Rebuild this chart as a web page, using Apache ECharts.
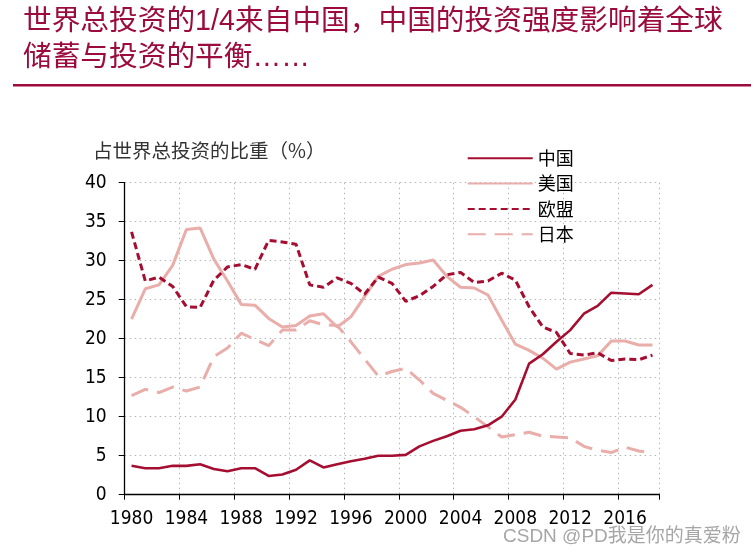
<!DOCTYPE html>
<html>
<head>
<meta charset="utf-8">
<script src="https://cdn.jsdelivr.net/npm/echarts@6/dist/echarts.min.js"></script>
<style>
html,body{margin:0;padding:0;background:#fff;}
#chart{width:755px;height:557px;}
</style>
</head>
<body>
<div id="chart"></div>
<script>
var years = [];
for (var y = 1980; y <= 2018; y++) years.push(String(y));

var seriesNames = ['中国', '美国', '欧盟', '日本'];

var china = [3.7, 3.4, 3.4, 3.7, 3.7, 3.9, 3.3, 3.0, 3.4, 3.4, 2.4, 2.6, 3.2, 4.4, 3.5, 3.9, 4.3, 4.6, 5.0, 5.0,
  5.1, 6.2, 6.9, 7.5, 8.2, 8.4, 8.9, 10.0, 12.2, 16.8, 18.0, 19.6, 21.1, 23.2, 24.2, 25.9, 25.8, 25.7, 26.9];
var usa = [22.5, 26.4, 26.9, 29.4, 34.0, 34.2, 30.2, 27.4, 24.4, 24.3, 22.6, 21.5, 21.7, 22.9, 23.2, 21.5, 22.8, 25.4, 28.0, 28.9,
  29.5, 29.7, 30.1, 28.0, 26.6, 26.5, 25.6, 22.4, 19.3, 18.5, 17.5, 16.1, 17.0, 17.4, 17.8, 19.7, 19.7, 19.2, 19.2];
var eu = [33.7, 27.4, 27.9, 26.7, 24.1, 24.0, 27.5, 29.2, 29.5, 28.9, 32.6, 32.4, 32.1, 26.9, 26.6, 27.8, 27.1, 25.7, 27.9, 27.1,
  24.8, 25.5, 26.7, 28.2, 28.5, 27.2, 27.4, 28.4, 27.5, 24.1, 21.5, 20.8, 18.1, 17.9, 18.2, 17.2, 17.4, 17.3, 17.9];
var japan = [12.7, 13.5, 13.1, 13.8, 13.3, 13.8, 17.7, 18.8, 20.7, 19.9, 19.1, 21.1, 21.1, 22.3, 21.8, 21.7, 19.6, 17.4, 15.2, 15.8,
  16.2, 14.7, 13.0, 12.1, 11.2, 10.0, 8.7, 7.4, 7.7, 8.0, 7.5, 7.4, 7.3, 6.2, 5.7, 5.4, 6.1, 5.6, 5.4];

var titleText = '世界总投资的1/4来自中国，中国的投资强度影响着全球\n储蓄与投资的平衡……';
var yAxisTitle = '占世界总投资的比重（%）';
var watermark = 'CSDN @PD我是你的真爱粉';

var DARK = '#A50E30';
var LIGHT = '#E9ADAA';
var numFont = '"DejaVu Sans Condensed", "DejaVu Sans", sans-serif';
var cjkFont = '"Noto Sans CJK SC", sans-serif';
var mixFont = '"Liberation Sans", "Noto Sans CJK SC", sans-serif';

var chart = echarts.init(document.getElementById('chart'), null, {renderer: 'canvas'});
chart.setOption({
  backgroundColor: '#fff',
  animation: false,
  title: [{
    text: titleText,
    left: 23, top: 4, padding: 0,
    textStyle: {fontFamily: mixFont, fontSize: 28.7, fontWeight: 'normal', color: '#9B0B3B', lineHeight: 36}
  }, {
    text: yAxisTitle,
    left: 93, top: 141, padding: 0,
    textStyle: {fontFamily: cjkFont, fontSize: 19.5, fontWeight: 'normal', color: '#333', lineHeight: 20}
  }],
  graphic: [{
    type: 'rect', shape: {x: 13, y: 84, width: 738, height: 2.6}, style: {fill: '#9B0B3B'}, silent: true
  }, {
    type: 'text', left: 503, top: 527,
    style: {text: watermark, font: '19px "Liberation Sans", "Noto Sans CJK SC", sans-serif', fill: '#a6a6a6'}
  }],
  legend: {
    orient: 'vertical', left: 466.7, top: 148.3, padding: 0,
    itemWidth: 65, itemHeight: 14, itemGap: 5.3,
    itemStyle: {opacity: 0, borderWidth: 0},
    textStyle: {fontFamily: cjkFont, fontSize: 18, color: '#000', lineHeight: 20},
    data: seriesNames
  },
  grid: {left: 124.7, right: 95.7, top: 182.7, bottom: 62.3, containLabel: false},
  xAxis: {
    type: 'category', data: years, boundaryGap: true,
    axisLine: {lineStyle: {color: '#000', width: 1.3}},
    axisTick: {show: true, interval: 3, alignWithLabel: false, length: 5, lineStyle: {color: '#000'}},
    axisLabel: {interval: 3, margin: 15, color: '#000', fontFamily: numFont, fontSize: 19},
    splitLine: {show: true, interval: 3, lineStyle: {color: '#b4b4b4', type: [1.5, 3.5], width: 1}}
  },
  yAxis: {
    type: 'value', min: 0, max: 40, interval: 5,
    axisLine: {show: true, lineStyle: {color: '#000', width: 1.3}},
    axisTick: {show: true, length: 6, lineStyle: {color: '#000'}},
    axisLabel: {margin: 18, color: '#000', fontFamily: numFont, fontSize: 19},
    splitLine: {show: true, lineStyle: {color: '#b4b4b4', type: [1.5, 3.5], width: 1}}
  },
  series: [{
    name: seriesNames[0], type: 'line', data: china, symbol: 'none', z: 5,
    lineStyle: {color: DARK, width: 2.6}, itemStyle: {color: DARK}
  }, {
    name: seriesNames[1], type: 'line', data: usa, symbol: 'none', z: 3,
    lineStyle: {color: LIGHT, width: 3}, itemStyle: {color: LIGHT}
  }, {
    name: seriesNames[2], type: 'line', data: eu, symbol: 'none', z: 4,
    lineStyle: {color: DARK, width: 3, type: [7, 4]}, itemStyle: {color: DARK}
  }, {
    name: seriesNames[3], type: 'line', data: japan, symbol: 'none', z: 2,
    lineStyle: {color: LIGHT, width: 3, type: [18, 9]}, itemStyle: {color: LIGHT}
  }]
});
</script>
</body>
</html>
